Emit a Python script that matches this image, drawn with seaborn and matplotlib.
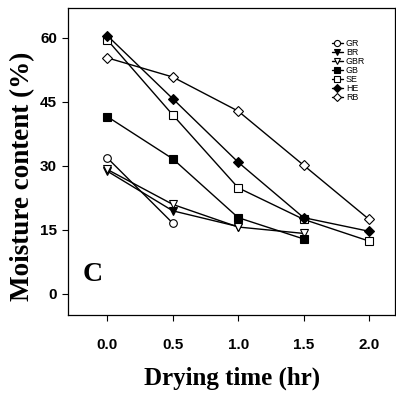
import matplotlib
matplotlib.use('Agg')
import matplotlib.pyplot as plt
import pandas as pd
import seaborn as sns

SERIES = ['GR', 'BR', 'GBR', 'GB', 'SE', 'HE', 'RB']
TIMES = {
    'GR': [0.0, 0.5],
    'BR': [0.0, 0.5, 1.0],
    'GBR': [0.0, 0.5, 1.0, 1.5],
    'GB': [0.0, 0.5, 1.0, 1.5],
    'SE': [0.0, 0.5, 1.0, 1.5, 2.0],
    'HE': [0.0, 0.5, 1.0, 1.5, 2.0],
    'RB': [0.0, 0.5, 1.0, 1.5, 2.0],
}
MOISTURE = {
    'GR': [31.8, 16.5],
    'BR': [28.7, 19.4, 15.7],
    'GBR': [29.1, 20.9, 15.6, 14.1],
    'GB': [41.5, 31.6, 17.8, 12.8],
    'SE': [59.5, 41.9, 24.8, 17.4, 12.3],
    'HE': [60.5, 45.7, 30.8, 17.8, 14.6],
    'RB': [55.3, 50.8, 42.8, 30.1, 17.4],
}
MARKERS = {'GR': 'o', 'BR': 'v', 'GBR': 'v', 'GB': 's', 'SE': 's', 'HE': 'D', 'RB': 'D'}
FILLED = {'GR': False, 'BR': True, 'GBR': False, 'GB': True, 'SE': False, 'HE': True, 'RB': False}
X_TICKS = [0.0, 0.5, 1.0, 1.5, 2.0]
Y_TICKS = [0, 15, 30, 45, 60]

long = pd.concat(
    [pd.DataFrame({'Time': TIMES[s], 'Moisture': MOISTURE[s], 'Sample': s}) for s in SERIES],
    ignore_index=True,
)

sns.set_theme(style='ticks')
plt.rcParams['font.family'] = ['Liberation Sans', 'DejaVu Sans']
plt.rcParams.update({'text.color': 'black', 'axes.labelcolor': 'black',
                     'xtick.color': 'black', 'ytick.color': 'black'})

fig = plt.figure(figsize=(3.96, 3.99), dpi=100)
ax = fig.add_axes([0.172, 0.211, 0.826, 0.769])

for s in SERIES:
    sub = long[long['Sample'] == s]
    size = 5.5 if MARKERS[s] != 'D' else 5
    sns.lineplot(
        data=sub, x='Time', y='Moisture', ax=ax, color='black', linewidth=1,
        marker=MARKERS[s], markersize=size, markeredgecolor='black', markeredgewidth=0.8,
        markerfacecolor='black' if FILLED[s] else 'white', label=s,
    )

ax.set_xlim(-0.3, 2.2)
ax.set_ylim(-5, 67)
ax.set_xticks(X_TICKS)
ax.set_xticklabels([f'{t:.1f}' for t in X_TICKS], fontsize=11, fontweight='bold')
ax.set_yticks(Y_TICKS)
ax.set_yticklabels([str(t) for t in Y_TICKS], fontsize=11, fontweight='bold')
ax.tick_params(direction='out', length=4, width=0.8, pad=13, axis='x')
ax.tick_params(direction='out', length=4, width=0.8, pad=4, axis='y')
for sp in ax.spines.values():
    sp.set_linewidth(0.9)
    sp.set_color('black')

ax.set_xlabel('Drying time (hr)', fontsize=18, fontweight='bold',
              family='Liberation Serif', labelpad=10)
ax.set_ylabel('Moisture content (%)', fontsize=19.5, fontweight='bold',
              family='Liberation Serif')
ax.yaxis.set_label_coords(-0.1, 0.45)
ax.text(0.045, 0.09, 'C', transform=ax.transAxes, fontsize=20, fontweight='bold',
        family='Liberation Serif', ha='left', va='bottom')

ax.legend(loc='upper left', bbox_to_anchor=(0.795, 0.91), frameon=False, fontsize=6.4,
          handlelength=1.3, handletextpad=0.3, labelspacing=0.0, markerscale=0.8,
          borderaxespad=0)

fig.savefig('out.png', dpi=100)
